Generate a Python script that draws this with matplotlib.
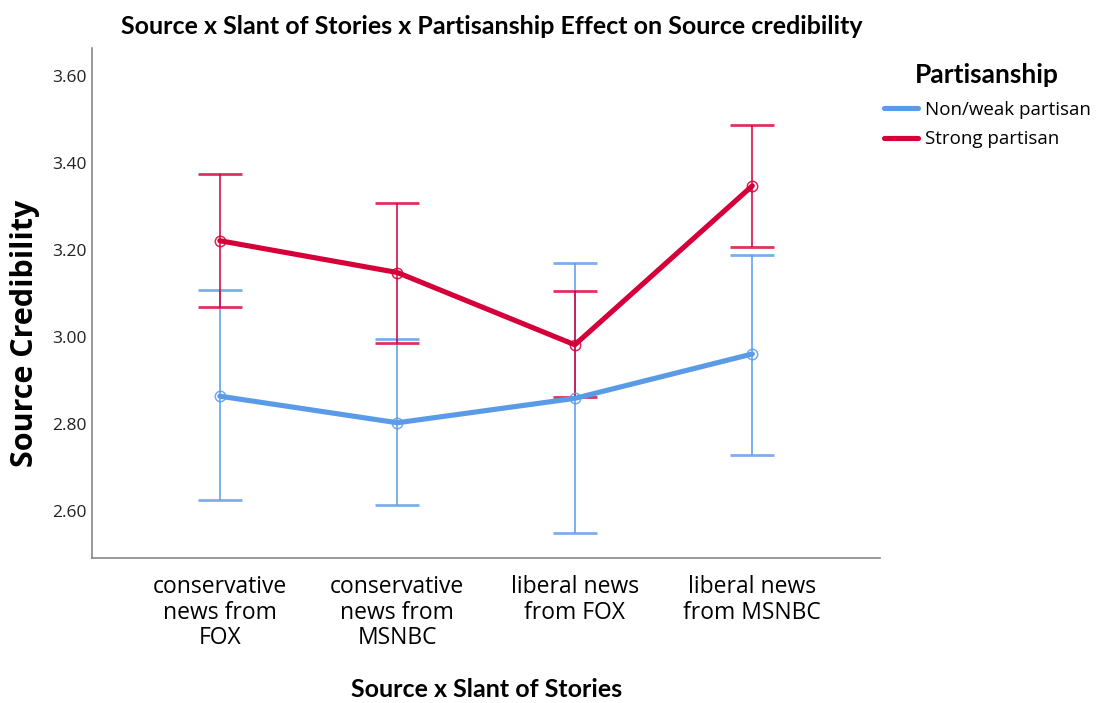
import matplotlib
matplotlib.use("Agg")
import matplotlib.pyplot as plt
import numpy as np

categories = ["conservative\nnews from\nFOX", "conservative\nnews from\nMSNBC",
              "liberal news\nfrom FOX", "liberal news\nfrom MSNBC"]
series_names = ["Non/weak partisan", "Strong partisan"]
weak_mean = [2.864, 2.803, 2.859, 2.961]
weak_low = [2.625, 2.613, 2.550, 2.729]
weak_high = [3.108, 2.995, 3.169, 3.188]
strong_mean = [3.221, 3.148, 2.982, 3.347]
strong_low = [3.068, 2.987, 2.863, 3.207]
strong_high = [3.375, 3.307, 3.106, 3.487]
yticks = [2.60, 2.80, 3.00, 3.20, 3.40, 3.60]

colors = ["#5A9BE8", "#D5003A"]
cond = "Lato"

fig = plt.figure(figsize=(10.96, 7.03), dpi=100)
ax = fig.add_axes([0.084, 0.206, 0.719, 0.726])

x = np.arange(len(categories))
for name, m, lo, hi, c in [(series_names[0], weak_mean, weak_low, weak_high, colors[0]),
                           (series_names[1], strong_mean, strong_low, strong_high, colors[1])]:
    m = np.array(m); lo = np.array(lo); hi = np.array(hi)
    ax.errorbar(x, m, yerr=[m - lo, hi - m], fmt="none", ecolor=c, elinewidth=1.4,
                capsize=16, capthick=2, alpha=0.8, zorder=2)
    ax.plot(x, m, color=c, lw=3.7, solid_capstyle="round", zorder=3, label=name)
    ax.plot(x, m, "o", ms=7.5, mfc="none", mec=c, mew=1.1, alpha=0.85, zorder=4)

ax.set_xlim(-0.72, 3.72)
ax.set_ylim(2.492, 3.664)
ax.set_yticks(yticks)
ax.set_yticklabels([f"{v:.2f}" for v in yticks], fontsize=12.5, color="#222222", family="Open Sans")
ax.set_xticks(x)
ax.set_xticklabels(categories, fontsize=16.5, family="Open Sans", linespacing=1.1)
ax.tick_params(axis="both", length=0)
ax.tick_params(axis="x", pad=12)
ax.tick_params(axis="y", pad=4)
for s in ["top", "right"]:
    ax.spines[s].set_visible(False)
for s in ["left", "bottom"]:
    ax.spines[s].set_color("#888888")
    ax.spines[s].set_linewidth(1.2)

ax.set_ylabel("Source Credibility", fontsize=22, fontweight="bold", family="Open Sans")
ax.yaxis.set_label_coords(-0.066, 0.441)
fig.text(0.444, 0.0185, "Source x Slant of Stories", fontsize=18, fontweight="bold",
         family=cond, ha="center", va="center")
fig.text(0.449, 0.962, "Source x Slant of Stories x Partisanship Effect on Source credibility",
         fontsize=18, fontweight="bold", family=cond, ha="center", va="center")

leg = ax.legend(loc="upper left", bbox_to_anchor=(0.995, 0.985), frameon=False,
                title="Partisanship", handlelength=1.85, handletextpad=0.35,
                labelspacing=0.6, borderaxespad=0.0,
                prop={"family": "Open Sans", "size": 13.5})
leg.get_title().set_fontweight("bold")
leg.get_title().set_fontsize(19)
leg.get_title().set_family(cond)
leg._legend_box.sep = 10

fig.savefig("out.png", dpi=100)
